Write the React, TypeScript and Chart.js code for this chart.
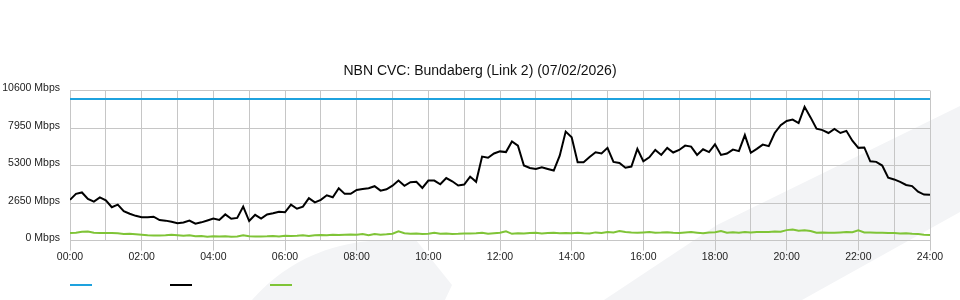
import React, { useEffect, useRef } from 'react';
import { Chart, registerables } from 'chart.js';

Chart.register(...registerables);

const TITLE = 'NBN CVC: Bundaberg (Link 2) (07/02/2026)';
const SAMPLE_MINUTES = 10;
const X_MIN_HOUR = 0;
const X_MAX_HOUR = 24;
const Y_MAX = 10600;
const Y_STEP = 2650;

const CAPACITY_HOURS = [0, 24];
const CAPACITY_MBPS = [10000, 10000];

const USAGE_MBPS = [
  2880, 3300, 3400, 2950, 2750, 3050, 2850,
  2360, 2540, 2080, 1900, 1750, 1650,
  1650, 1690, 1450, 1410, 1330, 1230,
  1280, 1410, 1190, 1290, 1420, 1560,
  1460, 1850, 1540, 1600, 2400, 1380,
  1820, 1550, 1850, 1930, 2040, 2000,
  2540, 2250, 2400, 3000, 2700, 2880,
  3200, 3060, 3700, 3300, 3300, 3580,
  3640, 3700, 3840, 3530, 3620, 3880,
  4240, 3870, 4120, 4150, 3720, 4240,
  4240, 3980, 4420, 4190, 3890, 3960,
  4520, 4150, 5930, 5850, 6150, 6300,
  6250, 7000, 6700, 5300, 5130, 5060,
  5180, 5060, 4950, 6000, 7700, 7300,
  5540, 5540, 5900, 6240, 6150, 6550,
  5560, 5480, 5150, 5230, 6480, 5600,
  5880, 6400, 6050, 6550, 6220, 6400,
  6710, 6640, 6050, 6450, 6250, 6800,
  6050, 6150, 6430, 6320, 7450, 6200,
  6480, 6780, 6670, 7600, 8150, 8450,
  8550, 8300, 9450, 8700, 7900, 7800,
  7600, 7880, 7600, 7750, 7050, 6550,
  6580, 5600, 5560, 5300, 4450, 4320,
  4150, 3930, 3850, 3450, 3250, 3230,
];

const OUT_MBPS = [
  540, 560, 630, 640, 560, 540, 540,
  540, 520, 470, 480, 450, 420,
  380, 360, 360, 370, 420, 380,
  340, 380, 300, 330, 280, 300,
  290, 300, 280, 290, 380, 300,
  290, 290, 300, 320, 290, 340,
  330, 340, 370, 320, 380, 400,
  380, 420, 390, 410, 430, 420,
  470, 380, 470, 420, 450, 490,
  650, 520, 480, 500, 470, 490,
  560, 480, 500, 470, 480, 500,
  510, 520, 560, 480, 520, 550,
  650, 480, 520, 500, 530, 560,
  500, 530, 560, 520, 540, 520,
  560, 520, 510, 580, 540, 600,
  580, 680, 600, 570, 560, 580,
  600, 560, 570, 590, 560, 540,
  580, 600, 560, 520, 570, 590,
  680, 560, 590, 560, 600, 570,
  600, 600, 600, 650, 620, 740,
  780, 700, 730, 680, 560, 580,
  560, 560, 580, 600, 590, 720,
  580, 580, 560, 560, 540, 530,
  500, 520, 480, 460, 420, 400,
];

const COLOR_CAPACITY = '#1ea2de';
const COLOR_USAGE = '#000000';
const COLOR_OUT = '#7fc437';
const GRID = '#c6c6c6';
const TEXT = '#222222';

const legendLines = {
  id: 'legendLines',
  afterDraw(chart: any) {
    const { ctx, chartArea } = chart;
    chart.data.datasets.forEach((ds: any, i: number) => {
      ctx.save();
      ctx.fillStyle = ds.borderColor;
      ctx.fillRect(chartArea.left + i * 100, chart.height - 16, 22, 2);
      ctx.restore();
    });
  },
};

function pad2(n: number) {
  return String(n).padStart(2, '0');
}

export default function App() {
  const ref = useRef<HTMLCanvasElement | null>(null);

  useEffect(() => {
    if (!ref.current) return;
    Chart.defaults.font.family = '"Liberation Sans", Arial, Helvetica, sans-serif';
    const toPoints = (arr: number[]) =>
      arr.map((v, i) => ({ x: (i * SAMPLE_MINUTES) / 60, y: v }));
    const chart = new Chart(ref.current, {
      type: 'line',
      data: {
        datasets: [
          {
            label: '',
            data: CAPACITY_HOURS.map((h, i) => ({ x: h, y: CAPACITY_MBPS[i] })),
            borderColor: COLOR_CAPACITY,
            backgroundColor: COLOR_CAPACITY,
            borderWidth: 2,
            pointRadius: 0,
            tension: 0,
          },
          {
            label: '',
            data: toPoints(USAGE_MBPS),
            borderColor: COLOR_USAGE,
            backgroundColor: COLOR_USAGE,
            borderWidth: 2,
            pointRadius: 0,
            tension: 0,
          },
          {
            label: '',
            data: toPoints(OUT_MBPS),
            borderColor: COLOR_OUT,
            backgroundColor: COLOR_OUT,
            borderWidth: 2,
            pointRadius: 0,
            tension: 0,
          },
        ],
      },
      options: {
        responsive: false,
        animation: false,
        layout: { padding: { top: 52, left: 0, right: 0, bottom: 36.8 } },
        plugins: {
          legend: { display: false },
          tooltip: { enabled: false },
          title: {
            display: true,
            text: TITLE,
            color: '#111',
            font: { size: 14, weight: 'normal' },
            padding: { top: 10.5, bottom: 11.2 },
          },
        },
        scales: {
          x: {
            type: 'linear',
            min: X_MIN_HOUR,
            max: X_MAX_HOUR,
            border: { color: GRID },
            grid: {
              color: GRID,
              tickLength: 10,
              tickColor: (c: any) => (c.tick && c.tick.value % 2 === 0 ? GRID : 'rgba(0,0,0,0)'),
            },
            ticks: {
              stepSize: 1,
              autoSkip: false,
              maxRotation: 0,
              padding: 0,
              color: TEXT,
              font: { size: 10.5 },
              callback: (v: any) => (Number(v) % 2 === 0 ? pad2(Number(v)) + ':00' : ''),
            },
          },
          y: {
            min: 0,
            max: Y_MAX,
            border: { color: GRID },
            grid: { color: GRID, drawTicks: false },
            afterFit: (s: any) => {
              s.width = 70;
            },
            ticks: {
              stepSize: Y_STEP,
              padding: 10,
              color: TEXT,
              font: { size: 10.5 },
              labelOffset: -2,
              callback: (v: any) => `${v} Mbps`,
            },
          },
          yRightSpace: {
            position: 'right',
            min: 0,
            max: Y_MAX,
            grid: { display: false, drawTicks: false },
            border: { display: false },
            ticks: { display: false },
            afterFit: (s: any) => {
              s.width = 30;
            },
          },
        },
      },
      plugins: [legendLines],
    } as any);
    return () => chart.destroy();
  }, []);

  return (
    <div style={{ position: 'fixed', left: 0, top: 0, width: 960, height: 300, background: '#fff' }}>
      <svg
        width={960}
        height={300}
        style={{ position: 'absolute', left: 0, top: 0 }}
      >
        <path d="M 252 300 C 280 268 320 245 370 241 L 416 240 L 452 285 L 445 300 Z" fill="#f3f4f6" />
        <path d="M 604 300 L 717 225 L 960 106 L 960 212 L 802 300 Z" fill="#f3f4f6" />
      </svg>
      <canvas ref={ref} width={960} height={300} style={{ position: 'absolute', left: 0, top: 0 }} />
    </div>
  );
}
